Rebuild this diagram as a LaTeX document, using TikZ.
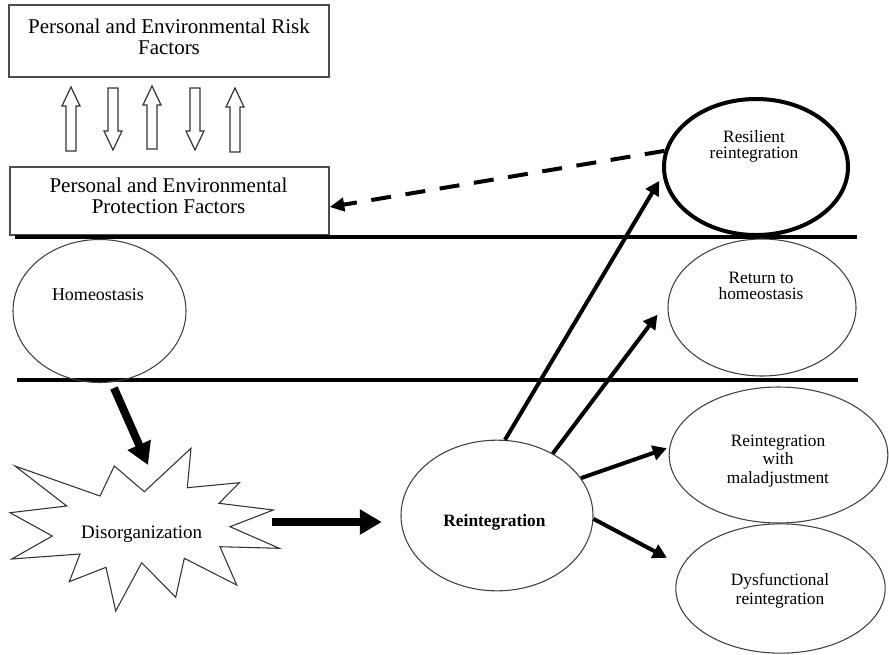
\documentclass[tikz,border=0pt]{standalone}
\usepackage{fontspec}
\setmainfont{Liberation Serif}
\usetikzlibrary{arrows.meta,shapes.geometric}

\tikzset{
  factorbox/.style={draw=black!70, line width=1pt, rectangle, inner sep=0pt},
  stage/.style={draw=black!75, line width=0.8pt, ellipse, inner sep=0pt},
  keystage/.style={draw=black, line width=3pt, ellipse, inner sep=0pt},
  boxtext/.style={align=center, font=\fontsize{15.75}{16}\selectfont, inner sep=0pt},
  stagetext/.style={align=center, font=\fontsize{13}{12}\selectfont, inner sep=0pt},
  outcometext/.style={align=center, font=\fontsize{13}{14}\selectfont, inner sep=0pt},
  band/.style={line width=3pt, black},
  hollow/.style={draw=black!80, line width=0.9pt, fill=white},
  bigarrow/.style={line width=6pt, -{Triangle[length=16.5pt, width=18pt]}},
  outarrow/.style={line width=3pt, -{Triangle[length=10.5pt, width=11pt]}},
  feedback/.style={line width=3pt, dash pattern=on 15pt off 11pt,
    -{Triangle[length=11pt, width=10pt]}},
}

\begin{document}
\begin{tikzpicture}[x=0.75pt, y=-0.75pt]
  \useasboundingbox (0,0) rectangle (889,654);

  % factor boxes
  \node[factorbox, minimum width=240pt, minimum height=54pt] (risk) at (169,41) {};
  \node[boxtext] (riskText) at (169,36.5) {Personal and Environmental Risk\\Factors};
  \node[factorbox, minimum width=239.25pt, minimum height=51pt] (prot) at (169.5,201) {};
  \node[boxtext] (protText) at (168.5,195.5) {Personal and Environmental\\Protection Factors};

  % exchange between risk and protection (up / down block arrows)
  \foreach \c/\t/\b in {71/87/151, 152/86/149, 235/88/152} {
    \draw[hollow] (\c-5,\b) -- (\c-5,\t+19) -- (\c-9,\t+19) -- (\c,\t)
      -- (\c+9,\t+19) -- (\c+5,\t+19) -- (\c+5,\b) -- cycle;
  }
  \foreach \c/\t/\b in {113/88/150, 195/88/150} {
    \draw[hollow] (\c-5,\t) -- (\c-5,\b-19) -- (\c-9,\b-19) -- (\c,\b)
      -- (\c+9,\b-19) -- (\c+5,\b-19) -- (\c+5,\t) -- cycle;
  }

  % homeostasis band
  \draw[band] (15,237) -- (857,237);
  \draw[band] (17,380) -- (858,380);

  % stages
  \node[stage, minimum width=129.75pt, minimum height=107.25pt] (homeo) at (99.5,311) {};
  \node[font=\fontsize{13.5}{14}\selectfont, inner sep=0pt] (homeoText) at (98,295) {Homeostasis};

  \node[keystage, minimum width=138pt, minimum height=102pt] (res) at (756,167) {};
  \node[stagetext] (resText) at (754,146) {Resilient\\reintegration};

  \node[stage, minimum width=141pt, minimum height=102.75pt] (ret) at (762,307.5) {};
  \node[stagetext] (retText) at (761,286) {Return to\\homeostasis};

  \node[stage, minimum width=164pt, minimum height=102pt] (malad) at (778.5,455) {};
  \node[outcometext] (maladText) at (778,461) {Reintegration\\with\\maladjustment};

  \node[stage, minimum width=157pt, minimum height=97pt] (dysf) at (780.5,588.5) {};
  \node[outcometext] (dysfText) at (780,591) {Dysfunctional\\reintegration};

  \node[stage, minimum width=144pt, minimum height=113pt] (reint) at (497,515.5) {};
  \node[font=\bfseries\fontsize{13}{14}\selectfont, inner sep=0pt] (reintText) at (494.5,522) {Reintegration};

  % disorganization burst
  \draw[draw=black!80, line width=0.8pt, fill=white]
    (15,466) -- (100,496) -- (114.3,466) -- (144.3,491.7) -- (191,448.3)
    -- (187.3,487.7) -- (239.3,482.7) -- (219,503.3) -- (273.3,510)
    -- (230,526.7) -- (279.3,548.3) -- (220,546.7) -- (236.7,585)
    -- (184.3,558.3) -- (175.7,597.3) -- (141.7,562.7) -- (115.7,611)
    -- (106,567.3) -- (69.3,581.7) -- (80,554) -- (11.7,559)
    -- (52.3,536) -- (10,512.7) -- (66.7,506) -- cycle;
  \node[font=\fontsize{14.25}{15}\selectfont, inner sep=0pt] (disText) at (141.7,534) {Disorganization};

  % connectors
  \coordinate (homeoOut) at (114,388);
  \coordinate (disTop) at (148,465);
  \coordinate (disRight) at (272,522);
  \draw[bigarrow] (homeoOut) -- (disTop);
  \draw[bigarrow, shorten >=14pt] (disRight) -- (disRight -| reint.west);

  \draw[outarrow, shorten >=5pt] (reint.84) -- (res.185);
  \draw[outarrow, shorten >=13pt] (reint.48) -- (ret.176);
  \draw[outarrow, shorten >=2pt] (reint.24) -- (malad.176);
  \draw[outarrow, shorten >=12.75pt] (reint.-2) -- (dysf.167);

  \draw[feedback] (res.170) -- ([shift={(0,6)}]prot.east);
\end{tikzpicture}
\end{document}
